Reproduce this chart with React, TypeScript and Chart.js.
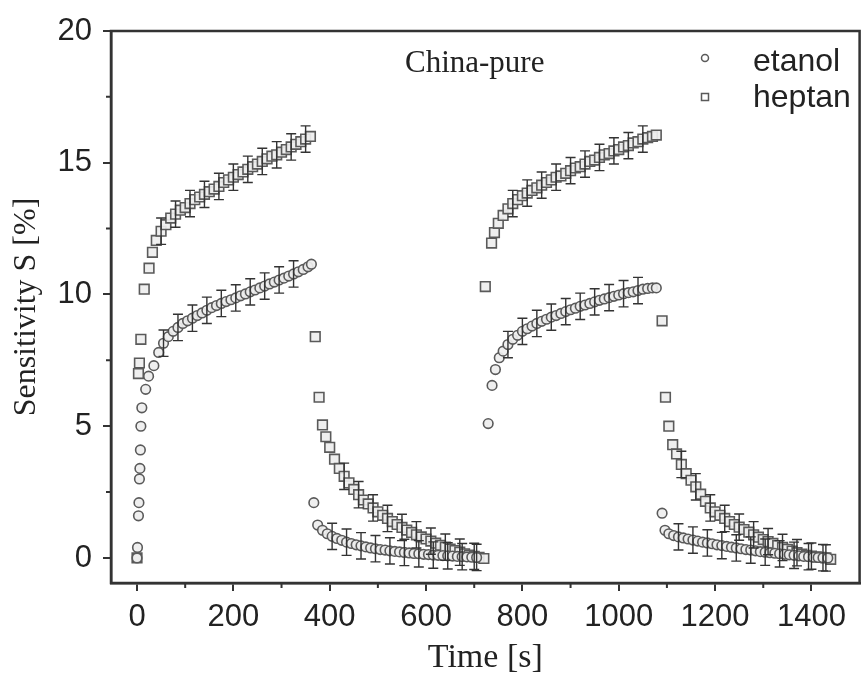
import React, { useEffect, useRef } from 'react';
import { Chart, registerables } from 'chart.js';

Chart.register(...registerables);

// ---------- data ----------
const etanolT1 = [0, 1, 3, 4, 5, 6, 7, 8, 10, 18, 24, 35, 45, 55, 65, 75, 85, 95, 105, 115, 125, 135, 145, 155, 165, 175, 185, 195, 205, 215, 225, 235, 245, 255, 265, 275, 285, 295, 305, 315, 325, 335, 345, 355, 362];
const etanolV1 = [0.0, 0.4, 1.6, 2.1, 3.0, 3.4, 4.1, 5.0, 5.7, 6.4, 6.9, 7.3, 7.8, 8.15, 8.4, 8.6, 8.75, 8.9, 9.0, 9.1, 9.2, 9.3, 9.4, 9.5, 9.58, 9.66, 9.73, 9.8, 9.87, 9.95, 10.02, 10.1, 10.17, 10.25, 10.32, 10.4, 10.47, 10.55, 10.62, 10.7, 10.78, 10.86, 10.95, 11.05, 11.15];
const etanolT2 = [367, 375, 385, 395, 405, 415, 425, 435, 445, 455, 465, 475, 485, 495, 505, 515, 525, 535, 545, 555, 565, 575, 585, 595, 605, 615, 625, 635, 645, 655, 665, 675, 685, 695, 705];
const etanolV2 = [2.1, 1.25, 1.05, 0.92, 0.82, 0.74, 0.67, 0.6, 0.55, 0.5, 0.46, 0.42, 0.38, 0.35, 0.32, 0.3, 0.27, 0.25, 0.23, 0.21, 0.19, 0.17, 0.16, 0.14, 0.13, 0.11, 0.1, 0.09, 0.08, 0.07, 0.06, 0.05, 0.04, 0.03, 0.02];
const etanolT3 = [729, 737, 744, 752, 760, 770, 780, 790, 800, 810, 820, 830, 840, 850, 860, 870, 880, 890, 900, 910, 920, 930, 940, 950, 960, 970, 980, 990, 1000, 1010, 1020, 1030, 1040, 1050, 1060, 1070, 1078];
const etanolV3 = [5.1, 6.55, 7.15, 7.6, 7.85, 8.1, 8.3, 8.45, 8.6, 8.7, 8.8, 8.9, 8.98, 9.06, 9.14, 9.2, 9.28, 9.35, 9.42, 9.48, 9.55, 9.6, 9.66, 9.72, 9.78, 9.83, 9.88, 9.93, 9.98, 10.03, 10.07, 10.1, 10.15, 10.2, 10.23, 10.25, 10.25];
const etanolT4 = [1090, 1096, 1104, 1114, 1124, 1134, 1144, 1154, 1164, 1174, 1184, 1194, 1204, 1214, 1224, 1234, 1244, 1254, 1264, 1274, 1284, 1294, 1304, 1314, 1324, 1334, 1344, 1354, 1364, 1374, 1384, 1394, 1404, 1414, 1424, 1434];
const etanolV4 = [1.7, 1.05, 0.92, 0.85, 0.8, 0.76, 0.72, 0.68, 0.64, 0.6, 0.57, 0.54, 0.5, 0.47, 0.44, 0.41, 0.38, 0.35, 0.32, 0.3, 0.27, 0.24, 0.22, 0.2, 0.18, 0.16, 0.14, 0.12, 0.1, 0.08, 0.06, 0.05, 0.03, 0.02, 0.01, 0.0];

const heptanT1 = [0, 3, 5, 8, 15, 25, 32, 40, 50, 60, 70, 80, 90, 100, 110, 120, 130, 140, 150, 160, 170, 180, 190, 200, 210, 220, 230, 240, 250, 260, 270, 280, 290, 300, 310, 320, 330, 340, 350, 360];
const heptanV1 = [0.0, 7.0, 7.4, 8.3, 10.2, 11.0, 11.6, 12.05, 12.4, 12.65, 12.9, 13.05, 13.2, 13.3, 13.45, 13.6, 13.7, 13.8, 13.9, 14.0, 14.1, 14.25, 14.35, 14.45, 14.55, 14.65, 14.75, 14.85, 14.95, 15.05, 15.15, 15.25, 15.3, 15.4, 15.5, 15.6, 15.7, 15.8, 15.9, 16.0];
const heptanT2 = [370, 378, 385, 392, 400, 410, 420, 430, 440, 450, 460, 470, 480, 490, 500, 510, 520, 530, 540, 550, 560, 570, 580, 590, 600, 610, 620, 630, 640, 650, 660, 670, 680, 690, 700, 710, 720];
const heptanV2 = [8.4, 6.1, 5.05, 4.6, 4.2, 3.75, 3.4, 3.1, 2.85, 2.6, 2.4, 2.2, 2.05, 1.9, 1.75, 1.62, 1.5, 1.38, 1.27, 1.16, 1.06, 0.97, 0.88, 0.8, 0.72, 0.64, 0.56, 0.48, 0.41, 0.34, 0.28, 0.22, 0.16, 0.11, 0.06, 0.02, -0.02];
const heptanT3 = [723, 736, 742, 750, 760, 770, 780, 790, 800, 810, 820, 830, 840, 850, 860, 870, 880, 890, 900, 910, 920, 930, 940, 950, 960, 970, 980, 990, 1000, 1010, 1020, 1030, 1040, 1050, 1060, 1070, 1078];
const heptanV3 = [10.3, 11.95, 12.35, 12.7, 13.0, 13.25, 13.45, 13.6, 13.75, 13.85, 13.95, 14.05, 14.15, 14.25, 14.35, 14.45, 14.5, 14.6, 14.7, 14.8, 14.85, 14.95, 15.05, 15.1, 15.2, 15.3, 15.35, 15.45, 15.5, 15.6, 15.65, 15.75, 15.8, 15.9, 15.95, 16.0, 16.05];
const heptanT4 = [1090, 1097, 1104, 1112, 1120, 1130, 1140, 1150, 1160, 1170, 1180, 1190, 1200, 1210, 1220, 1230, 1240, 1250, 1260, 1270, 1280, 1290, 1300, 1310, 1320, 1330, 1340, 1350, 1360, 1370, 1380, 1390, 1400, 1410, 1420, 1430, 1440];
const heptanV4 = [9.0, 6.1, 5.0, 4.3, 3.95, 3.55, 3.2, 2.95, 2.7, 2.42, 2.15, 1.9, 1.75, 1.62, 1.5, 1.38, 1.27, 1.17, 1.08, 0.98, 0.88, 0.79, 0.7, 0.62, 0.55, 0.47, 0.4, 0.33, 0.26, 0.2, 0.15, 0.1, 0.07, 0.04, 0.02, 0.0, -0.05];

const etanolError = 0.5;
const heptanError = 0.5;

const xTicks = [0, 200, 400, 600, 800, 1000, 1200, 1400];
const xMinorTicks = [100, 300, 500, 700, 900, 1100, 1300];
const yTicks = [0, 5, 10, 15, 20];
const yMinorTicks = [2.5, 7.5, 12.5, 17.5];

const seriesLabels = ['etanol', 'heptan'];
const annotation = 'China-pure';
const xTitle = 'Time [s]';
const yTitle = 'Sensitivity S [%]';

// ---------- helpers ----------
function pairs(ts: number[][], vs: number[][]) {
  const out: { x: number; y: number }[] = [];
  ts.forEach((t, s) => {
    const v = vs[s];
    const n = Math.min(t.length, v.length);
    for (let i = 0; i < n; i++) out.push({ x: t[i], y: v[i] });
  });
  return out;
}

const SANS = '"Liberation Sans", Arial, sans-serif';
const SERIF = '"Liberation Serif", "Times New Roman", serif';
const AXIS = '#333';
const MARK = '#5a5a5a';
const FILL = 'rgba(238,238,238,0.92)';

const errorBarPlugin = {
  id: 'errorBars',
  afterDatasetsDraw(chart: any) {
    const { ctx } = chart;
    const xs = chart.scales.x;
    const ys = chart.scales.y;
    ctx.save();
    ctx.strokeStyle = '#333';
    ctx.lineWidth = 1.4;
    chart.data.datasets.forEach((ds: any) => {
      const pts = ds.data;
      const err = ds.errorValue;
      pts.forEach((p: any, i: number) => {
        const prev = pts[i - 1];
        const next = pts[i + 1];
        if (!prev || !next) return;
        if (p.x - prev.x < 9 || next.x - p.x < 9) return;
        if (i % 3 !== ds.errorPhase) return;
        const px = xs.getPixelForValue(p.x);
        const top = ys.getPixelForValue(p.y + err);
        const bot = ys.getPixelForValue(p.y - err);
        ctx.beginPath();
        ctx.moveTo(px, top);
        ctx.lineTo(px, bot);
        ctx.moveTo(px - 5, top);
        ctx.lineTo(px + 5, top);
        ctx.moveTo(px - 5, bot);
        ctx.lineTo(px + 5, bot);
        ctx.stroke();
      });
    });
    ctx.restore();
  },
};

const framePlugin = {
  id: 'frame',
  afterDraw(chart: any) {
    const { ctx, chartArea: a } = chart;
    const xs = chart.scales.x;
    const ys = chart.scales.y;
    ctx.save();
    ctx.strokeStyle = AXIS;
    ctx.lineWidth = 2.5;
    ctx.strokeRect(a.left, a.top, a.right - a.left, a.bottom - a.top);
    ctx.lineWidth = 2;
    ctx.beginPath();
    xMinorTicks.forEach((v) => {
      const px = xs.getPixelForValue(v);
      ctx.moveTo(px, a.bottom);
      ctx.lineTo(px, a.bottom + 5);
    });
    yMinorTicks.forEach((v) => {
      const py = ys.getPixelForValue(v);
      ctx.moveTo(a.left, py);
      ctx.lineTo(a.left - 5, py);
    });
    ctx.stroke();

    // annotation
    ctx.fillStyle = '#222';
    ctx.font = `31px ${SERIF}`;
    ctx.textAlign = 'left';
    ctx.textBaseline = 'alphabetic';
    ctx.fillText(annotation, 405, 72);

    // legend
    const styles = chart.data.datasets.map((d: any) => d.pointStyle);
    const rows = [62, 98];
    ctx.font = `32px ${SANS}`;
    seriesLabels.forEach((lab, i) => {
      const y = rows[i];
      ctx.strokeStyle = MARK;
      ctx.lineWidth = 1.5;
      ctx.beginPath();
      if (styles[i] === 'circle') ctx.arc(705, y - 4, 3.5, 0, Math.PI * 2);
      else ctx.rect(701.5, y - 4.5, 7, 7);
      ctx.stroke();
      ctx.fillStyle = '#222';
      ctx.textBaseline = 'middle';
      ctx.fillText(lab, 753, y);
    });
    ctx.restore();
  },
};

export default function App() {
  const ref = useRef<HTMLCanvasElement>(null);
  useEffect(() => {
    const etanolData = pairs([etanolT1, etanolT2, etanolT3, etanolT4], [etanolV1, etanolV2, etanolV3, etanolV4]);
    const heptanData = pairs([heptanT1, heptanT2, heptanT3, heptanT4], [heptanV1, heptanV2, heptanV3, heptanV4]);
    const chart = new Chart(ref.current as HTMLCanvasElement, {
      type: 'scatter',
      data: {
        datasets: [
          {
            label: seriesLabels[0],
            data: etanolData,
            pointStyle: 'circle',
            pointRadius: 4.8,
            borderColor: MARK,
            backgroundColor: FILL,
            borderWidth: 1.6,
            errorValue: etanolError,
            errorPhase: 1,
          } as any,
          {
            label: seriesLabels[1],
            data: heptanData,
            pointStyle: 'rect',
            pointRadius: 6.8,
            borderColor: MARK,
            backgroundColor: FILL,
            borderWidth: 1.6,
            errorValue: heptanError,
            errorPhase: 2,
          } as any,
        ],
      },
      options: {
        responsive: false,
        animation: false,
        devicePixelRatio: 1,
        layout: { padding: { top: 31, right: 3, left: 0, bottom: 0 } },
        plugins: { legend: { display: false }, tooltip: { enabled: false } },
        scales: {
          x: {
            type: 'linear',
            min: -54,
            max: 1500,
            afterBuildTicks: (s: any) => {
              s.ticks = xTicks.map((v) => ({ value: v }));
            },
            afterFit: (s: any) => {
              s.height = 92;
            },
            grid: { drawOnChartArea: false, drawTicks: true, tickLength: 8, color: AXIS, lineWidth: 2 },
            border: { display: true, color: AXIS, width: 2.5 },
            ticks: { color: '#222', font: { family: SANS, size: 31 }, padding: 8, maxRotation: 0, callback: (v: any) => String(v) },
            title: { display: true, text: xTitle, color: '#222', font: { family: SERIF, size: 34, lineHeight: 1 }, padding: { top: 0, bottom: 0 } },
          },
          y: {
            type: 'linear',
            min: -0.95,
            max: 20,
            afterBuildTicks: (s: any) => {
              s.ticks = yTicks.map((v) => ({ value: v }));
            },
            afterFit: (s: any) => {
              s.width = 111;
            },
            grid: { drawOnChartArea: false, drawTicks: true, tickLength: 8, color: AXIS, lineWidth: 2 },
            border: { display: true, color: AXIS, width: 2.5 },
            ticks: { color: '#222', font: { family: SANS, size: 31 }, padding: 11, callback: (v: any) => String(v) },
            title: { display: true, text: yTitle, color: '#222', font: { family: SERIF, size: 32, lineHeight: 1 }, padding: { top: 11, bottom: 0 } },
          },
        },
      },
      plugins: [errorBarPlugin, framePlugin],
    } as any);
    return () => chart.destroy();
  }, []);
  return (
    <div style={{ position: 'absolute', left: 0, top: 0, width: 868, height: 675, background: '#fff' }}>
      <canvas ref={ref} width={868} height={675} style={{ display: 'block', width: 868, height: 675 }} />
    </div>
  );
}
